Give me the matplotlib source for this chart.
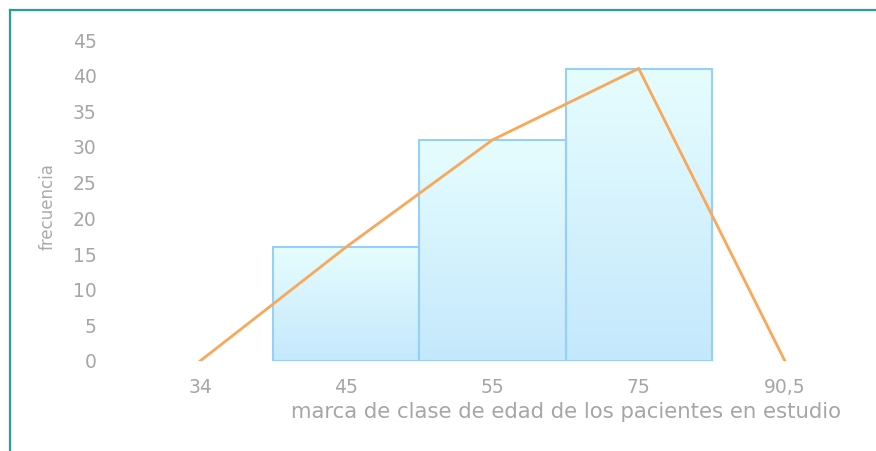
import numpy as np
import matplotlib.pyplot as plt
from matplotlib.lines import Line2D
from matplotlib.colors import LinearSegmentedColormap

# marcas de clase y frecuencias
marcas = ["34", "45", "55", "75", "90,5"]
marcas_barras = ["45", "55", "75"]
frec_barras = [16, 31, 41]
frec_poligono = [0, 16, 31, 41, 0]

gris = "#a6a6a6"

fig = plt.figure(figsize=(8.76, 4.51), dpi=100)
ax = fig.add_axes([127 / 876, 90 / 451, 731 / 876, 321 / 451])

pos = {m: i for i, m in enumerate(marcas)}
xb = [pos[m] for m in marcas_barras]

bars = ax.bar(xb, frec_barras, width=1.0, facecolor="none",
              edgecolor="#96cff9", linewidth=1.5, zorder=3)

# degradado vertical dentro de cada barra
grad = LinearSegmentedColormap.from_list("g", ["#c4e8fc", "#e6fdfe"])
img = np.linspace(0, 1, 256).reshape(-1, 1)
for b in bars:
    x0, w, h = b.get_x(), b.get_width(), b.get_height()
    im = ax.imshow(img, cmap=grad, origin="lower", aspect="auto",
                   extent=[x0, x0 + w, 0, h], zorder=2)
    im.set_clip_path(b)

ax.plot(range(len(marcas)), frec_poligono, color="#f9a85a", linewidth=2.0,
        zorder=4, solid_joinstyle="miter")

ax.set_xlim(-0.5, len(marcas) - 0.5)
ax.set_ylim(0, 45)
ax.set_xticks(range(len(marcas)))
ax.set_xticklabels(marcas)
ax.set_yticks(range(0, 46, 5))
for s in ax.spines.values():
    s.set_visible(False)
ax.tick_params(axis="both", length=0, labelcolor=gris, labelsize=13.5)
ax.tick_params(axis="y", pad=22)
ax.tick_params(axis="x", pad=12)

ax.set_xlabel("marca de clase de edad de los pacientes en estudio",
              color=gris, fontsize=15.3)
ax.xaxis.label.set_va("center")
ax.xaxis.set_label_coords((566 - 127) / 731, (451 - 412 - 90) / 321)
ax.set_ylabel("frecuencia", color="#aaaaaa", fontsize=12,
              family=["Liberation Sans Narrow", "DejaVu Sans"])
ax.yaxis.label.set_va("center")
ax.yaxis.set_label_coords((48 - 127) / 731, (451 - 207 - 90) / 321)

# marco exterior
teal = "#27a096"
fig.add_artist(Line2D([9.5 / 876, 9.5 / 876], [0, 1 - 10 / 451],
                      color=teal, linewidth=1.6, transform=fig.transFigure))
fig.add_artist(Line2D([9.5 / 876, 1], [1 - 10 / 451, 1 - 10 / 451],
                      color=teal, linewidth=1.6, transform=fig.transFigure))

fig.savefig("out.png", dpi=100)
